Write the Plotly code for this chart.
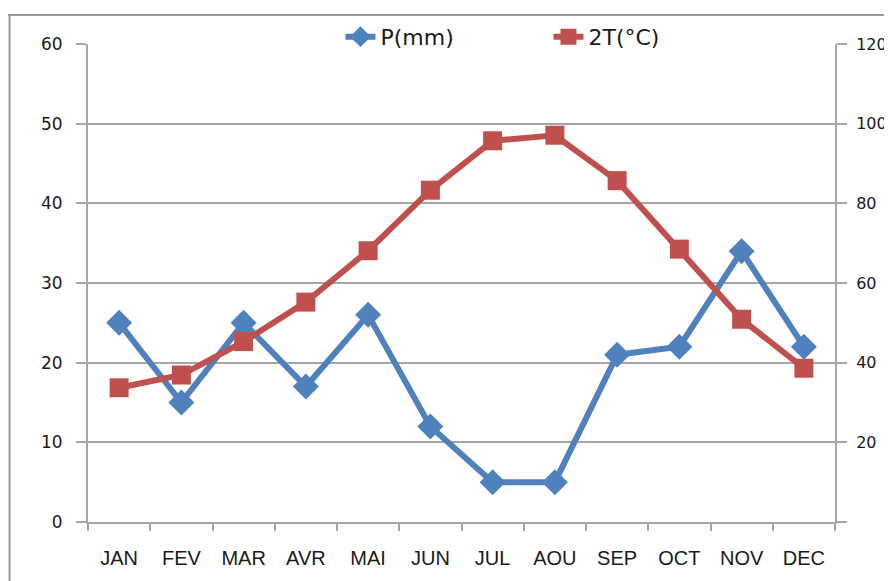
import plotly.graph_objects as go

months = ["JAN", "FEV", "MAR", "AVR", "MAI", "JUN", "JUL", "AOU", "SEP", "OCT", "NOV", "DEC"]
precip_mm = [25, 15, 25, 17, 26, 12, 5, 5, 21, 22, 34, 22]
two_t = [33.7, 36.9, 45.3, 55.2, 68.1, 83.3, 95.7, 97.1, 85.7, 68.5, 50.9, 38.6]

left_ticks = [0, 10, 20, 30, 40, 50, 60]
right_ticks = [0, 20, 40, 60, 80, 100, 120]
right_labels = ["", "20", "40", "60", "80", "100", "120"]

blue = "#4F81BD"
red = "#C0504D"
grid = "#A6A6A6"

fig = go.Figure()
fig.add_trace(go.Scatter(
    x=months, y=precip_mm, name="P(mm)", mode="lines+markers",
    line=dict(color=blue, width=6),
    marker=dict(symbol="diamond", size=20, color=blue),
    yaxis="y",
))
fig.add_trace(go.Scatter(
    x=months, y=two_t, name="2T(°C)", mode="lines+markers",
    line=dict(color=red, width=6),
    marker=dict(symbol="square", size=19, color=red),
    yaxis="y2",
))

fig.update_layout(
    width=884, height=573,
    margin=dict(l=80, r=57, t=36, b=59, autoexpand=False),
    paper_bgcolor="white", plot_bgcolor="white",
    font=dict(family="DejaVu Sans", size=17, color="#1a1a1a"),
    showlegend=True,
    legend=dict(
        orientation="h", x=0.338, y=1.015, xanchor="left", yanchor="middle",
        font=dict(family="DejaVu Sans", size=22, color="#1a1a1a"),
        entrywidth=163, bgcolor="rgba(0,0,0,0)",
    ),
    xaxis=dict(
        type="category", categoryorder="array", categoryarray=months,
        showline=True, linecolor=grid, linewidth=2,
        ticks="outside", tickson="boundaries", ticklen=7, tickcolor=grid, tickwidth=2,
        showgrid=False, range=[-0.5, 11.5], automargin=False,
        ticklabelstandoff=17,
        tickfont=dict(family="Liberation Sans Narrow, Liberation Sans", size=20, color="#1a1a1a"),
    ),
    yaxis=dict(
        range=[0, 60], tickvals=left_ticks,
        showline=True, linecolor=grid, linewidth=2,
        ticks="outside", ticklen=10, tickcolor=grid, tickwidth=2,
        showgrid=True, gridcolor=grid, gridwidth=1.5,
        zeroline=False, ticklabelstandoff=10, automargin=False,
        tickfont=dict(family="DejaVu Sans", size=17, color="#1a1a1a"),
    ),
    yaxis2=dict(
        range=[0, 120], tickvals=right_ticks, ticktext=right_labels,
        overlaying="y", side="right",
        showline=True, linecolor=grid, linewidth=2,
        ticks="outside", ticklen=10, tickcolor=grid, tickwidth=2,
        showgrid=False, zeroline=False, ticklabelstandoff=6, automargin=False,
        tickfont=dict(family="DejaVu Sans", size=16, color="#1a1a1a"),
    ),
    shapes=[
        dict(type="line", xref="paper", yref="paper", x0=-0.12, x1=1.1, y0=1.0607, y1=1.0607,
             line=dict(color="#999", width=2)),
        dict(type="line", xref="paper", yref="paper", x0=-0.105, x1=-0.105, y0=-0.13, y1=1.0607,
             line=dict(color="#999", width=2)),
    ],
)

fig.write_html("out.html")
